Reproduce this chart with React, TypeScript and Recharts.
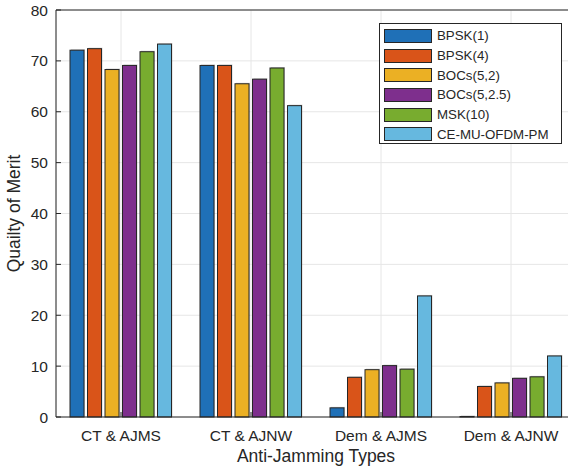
import React from "react";
import {
  BarChart,
  Bar,
  XAxis,
  YAxis,
  CartesianGrid,
  Legend,
  ReferenceLine,
} from "recharts";

// anti-jamming test cases along the x axis
const CATEGORIES = ["CT & AJMS", "CT & AJNW", "Dem & AJMS", "Dem & AJNW"];

// quality of merit per modulation scheme
const BPSK1 = [72.1, 69.1, 1.8, 0.1];
const BPSK4 = [72.4, 69.1, 7.8, 6.0];
const BOCS_5_2 = [68.3, 65.5, 9.3, 6.7];
const BOCS_5_25 = [69.1, 66.4, 10.1, 7.6];
const MSK10 = [71.8, 68.6, 9.4, 7.9];
const CE_MU_OFDM_PM = [73.3, 61.2, 23.8, 12.0];

const Y_TICKS = [0, 10, 20, 30, 40, 50, 60, 70, 80];

const SERIES = [
  { key: "bpsk1", name: "BPSK(1)", values: BPSK1, color: "#1f70b7" },
  { key: "bpsk4", name: "BPSK(4)", values: BPSK4, color: "#d95419" },
  { key: "bocs52", name: "BOCs(5,2)", values: BOCS_5_2, color: "#ebb024" },
  { key: "bocs525", name: "BOCs(5,2.5)", values: BOCS_5_25, color: "#7e2f8d" },
  { key: "msk10", name: "MSK(10)", values: MSK10, color: "#78ac2f" },
  { key: "ce", name: "CE-MU-OFDM-PM", values: CE_MU_OFDM_PM, color: "#66b8df" },
];

const data = CATEGORIES.map((cat, i) => {
  const row: Record<string, string | number> = { cat };
  SERIES.forEach((s) => {
    row[s.key] = s.values[i];
  });
  return row;
});

const INK = "#262626";
const GRID = "#e6e6e6";
const FONT = "'Liberation Sans', Arial, Helvetica, sans-serif";
const TICK_FONT = 15.5;
const LABEL_FONT = 17.5;

// bar with a faint offset shadow and a dark edge
const BarShape = (props: any) => {
  const { x, y, width, height, fill } = props;
  if (!(height > 0)) return null;
  return (
    <g>
      <rect x={x + 1} y={y - 1} width={width} height={height + 1} fill="#000" opacity={0.18} />
      <rect x={x} y={y} width={width} height={height} fill={fill} stroke={INK} strokeWidth={1} />
    </g>
  );
};

// x tick: label below the axis plus a short tick pointing into the plot
const XTick = (props: any) => {
  const { x, y, payload } = props;
  return (
    <g>
      <line x1={x} x2={x} y1={y} y2={y - 5} stroke={INK} strokeWidth={1} />
      <text x={x} y={y + 24} textAnchor="middle" fill={INK} fontSize={TICK_FONT} fontFamily={FONT}>
        {payload.value}
      </text>
    </g>
  );
};

// y tick: label left of the axis plus an inward tick
const YTick = (props: any) => {
  const { x, y, payload } = props;
  return (
    <g>
      <line x1={x + 8} x2={x + 13} y1={y} y2={y} stroke={INK} strokeWidth={1} />
      <text x={x} y={y} dy="0.36em" textAnchor="end" fill={INK} fontSize={TICK_FONT} fontFamily={FONT}>
        {payload.value}
      </text>
    </g>
  );
};

const renderLegend = () => (
  <div
    style={{
      boxSizing: "border-box",
      width: 183,
      height: 121,
      border: `1px solid ${INK}`,
      background: "#fff",
      padding: "2px 0 0 4px",
      fontFamily: FONT,
      fontSize: 13.3,
      color: INK,
    }}
  >
    {SERIES.map((s) => (
      <div key={s.key} style={{ display: "flex", alignItems: "center", height: 19.7 }}>
        <span
          style={{
            boxSizing: "border-box",
            display: "inline-block",
            width: 48,
            height: 14,
            background: s.color,
            border: `1px solid ${INK}`,
            marginRight: 5,
          }}
        />
        <span style={{ whiteSpace: "nowrap" }}>{s.name}</span>
      </div>
    ))}
  </div>
);

export default function App() {
  return (
    <div
      style={{
        position: "absolute",
        left: 0,
        top: 0,
        width: 568,
        height: 470,
        overflow: "hidden",
        background: "#fff",
        fontFamily: FONT,
      }}
    >
      <BarChart
        width={600}
        height={470}
        data={data}
        margin={{ top: 10, right: 24, bottom: 0, left: 0 }}
        barGap={3.5}
        barSize={14}
      >
        <CartesianGrid stroke={GRID} strokeWidth={1} />
        <XAxis
          dataKey="cat"
          height={53}
          tickSize={0}
          tickMargin={0}
          tickLine={false}
          axisLine={{ stroke: INK, strokeWidth: 1 }}
          tick={(p: any) => <XTick {...p} />}
          interval={0}
          label={{
            content: (lp: any) => {
              const vb = lp.viewBox;
              return (
                <text
                  x={vb.x + vb.width / 2}
                  y={vb.y + 45}
                  textAnchor="middle"
                  fill={INK}
                  fontSize={LABEL_FONT}
                  fontFamily={FONT}
                >
                  Anti-Jamming Types
                </text>
              );
            },
          }}
        />
        <XAxis
          xAxisId="top"
          dataKey="cat"
          orientation="top"
          height={0}
          mirror
          tick={false}
          tickSize={5}
          tickLine={{ stroke: INK, strokeWidth: 1 }}
          axisLine={{ stroke: INK, strokeWidth: 1 }}
        />
        <YAxis
          width={56}
          domain={[0, 80]}
          ticks={Y_TICKS}
          interval={0}
          tickSize={0}
          tickMargin={8}
          tickLine={false}
          axisLine={{ stroke: INK, strokeWidth: 1 }}
          tick={(p: any) => <YTick {...p} />}
          label={{
            content: (lp: any) => {
              const vb = lp.viewBox;
              const cy = vb.y + vb.height / 2;
              return (
                <text
                  x={19.5}
                  y={cy}
                  transform={`rotate(-90, 19.5, ${cy})`}
                  textAnchor="middle"
                  fill={INK}
                  fontSize={LABEL_FONT}
                  fontFamily={FONT}
                >
                  Quailty of Merit
                </text>
              );
            },
          }}
        />
        <ReferenceLine y={80} stroke={INK} strokeWidth={1} ifOverflow="visible" />
        <Legend
          layout="vertical"
          align="center"
          verticalAlign="middle"
          wrapperStyle={{ left: 379, top: 23, width: 183 }}
          content={renderLegend}
        />
        {SERIES.map((s) => (
          <Bar
            key={s.key}
            dataKey={s.key}
            name={s.name}
            fill={s.color}
            shape={<BarShape />}
            isAnimationActive={false}
          />
        ))}
      </BarChart>
    </div>
  );
}
